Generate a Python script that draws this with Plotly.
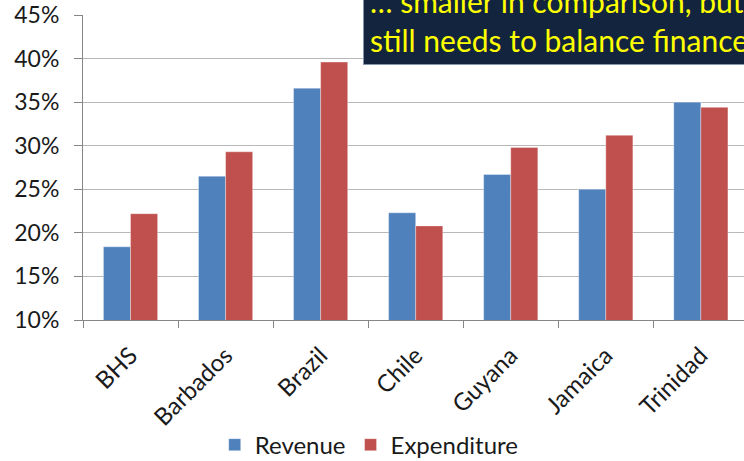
import plotly.graph_objects as go

countries = ["BHS", "Barbados", "Brazil", "Chile", "Guyana", "Jamaica", "Trinidad"]
revenue = [0.184, 0.265, 0.366, 0.223, 0.267, 0.250, 0.350]
expenditure = [0.222, 0.293, 0.396, 0.208, 0.298, 0.312, 0.344]
y_ticks = [0.10, 0.15, 0.20, 0.25, 0.30, 0.35, 0.40, 0.45]
note_text = "… smaller in comparison, but<br>still needs to balance finances"

FONT = "Lato"
fig = go.Figure()
fig.add_trace(go.Bar(name="Revenue", x=countries, y=revenue,
                     marker=dict(color="#4F81BD", line=dict(color="rgba(255,255,255,0.35)", width=1))))
fig.add_trace(go.Bar(name="Expenditure", x=countries, y=expenditure,
                     marker=dict(color="#C0504D", line=dict(color="rgba(255,255,255,0.35)", width=1))))

fig.update_layout(
    width=744, height=461,
    margin=dict(l=83, r=0, t=15, b=141, autoexpand=False),
    paper_bgcolor="white", plot_bgcolor="white",
    barmode="group", bargap=0.43, bargroupgap=0,
    font=dict(family=FONT, color="#1a1a1a"),
    legend=dict(orientation="h", x=0.433, xanchor="center", y=-0.41, yanchor="middle",
                font=dict(size=24, family=FONT, color="#1a1a1a"), itemwidth=30),
    xaxis=dict(range=[-0.5, 6.454], showline=True, linecolor="#868686", linewidth=1,
               ticks="outside", tickson="boundaries", ticklen=7, tickcolor="#868686",
               tickangle=-45, tickfont=dict(size=24, family=FONT, color="#1a1a1a"),
               ticklabelstandoff=11, showgrid=False, automargin=False),
    yaxis=dict(range=[0.10, 0.45], tickvals=y_ticks, tickformat=".0%",
               showline=True, linecolor="#868686", linewidth=1,
               ticks="outside", ticklen=8, tickcolor="#868686", ticklabelstandoff=10,
               ticklabeloverflow="allow", automargin=False,
               showgrid=True, gridcolor="#B8B8B8", gridwidth=1.3,
               tickfont=dict(size=23, family=FONT, color="#1a1a1a"), zeroline=False),
    annotations=[dict(
        text=note_text, xref="paper", yref="paper",
        x=(363 - 83) / 661, y=(320 - 65.3) / 305, xanchor="left", yanchor="bottom",
        showarrow=False, align="left", width=440,
        bgcolor="#13243F", bordercolor="#8496B0", borderwidth=1, borderpad=6,
        font=dict(size=30, family=FONT, color="#FFFF00"),
    )],
)

# remove the page's default 8px body margin so the figure fills the window
fig.write_html("out.html", config={"displayModeBar": False},
               post_script="document.body.style.margin='0';")
